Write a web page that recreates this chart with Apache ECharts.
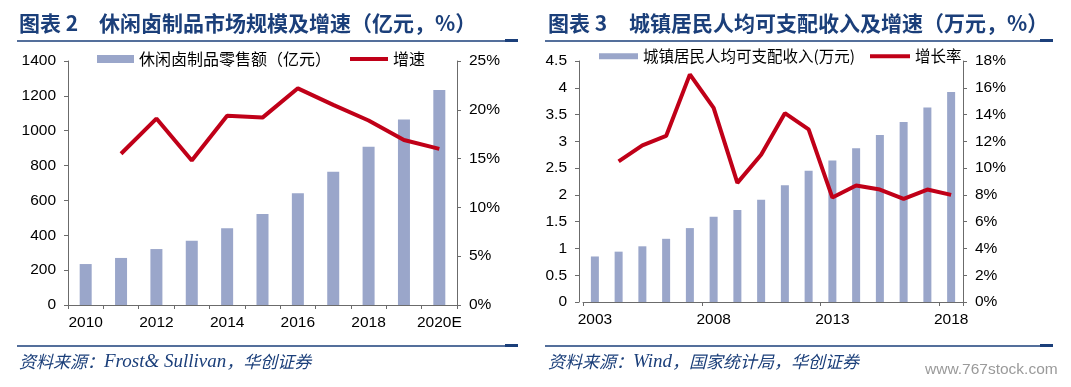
<!DOCTYPE html>
<html>
<head>
<meta charset="utf-8">
<script src="https://cdn.jsdelivr.net/npm/echarts@6/dist/echarts.min.js"></script>
<style>
html,body{margin:0;padding:0;background:#fff;}
#c{width:1071px;height:387px;}
</style>
</head>
<body>
<div id="c"></div>
<script>
// ---------- data ----------
const years1 = ['2010','2011','2012','2013','2014','2015','2016','2017','2018','2019','2020E'];
const retailSales = [235, 270, 321, 369, 440, 522, 641, 765, 908, 1065, 1233];
const retailGrowth = [null, 15.5, 19.1, 14.8, 19.4, 19.2, 22.2, 20.5, 18.9, 16.9, 16.0];

const years2 = ['2003','2004','2005','2006','2007','2008','2009','2010','2011','2012','2013','2014','2015','2016','2017','2018'];
const income = [0.85, 0.94, 1.04, 1.18, 1.38, 1.59, 1.72, 1.91, 2.18, 2.45, 2.64, 2.87, 3.12, 3.36, 3.63, 3.92];
const incomeGrowth = [null, 10.5, 11.7, 12.4, 17.0, 14.5, 8.9, 11.0, 14.1, 12.9, 7.8, 8.7, 8.4, 7.7, 8.4, 8.0];

const title1 = '休闲卤制品市场规模及增速（亿元，%）';
const title2 = '城镇居民人均可支配收入及增速（万元，%）';
const barName1 = '休闲卤制品零售额（亿元）';
const lineName1 = '增速';
const barName2 = '城镇居民人均可支配收入(万元)';
const lineName2 = '增长率';

// ---------- style ----------
const BAR = '#9AA6CA';
const RED = '#C00018';
const NAVY = '#1B3F7A';
const AXIS = '#6b6b6b';
const NUM_FONT = 'Liberation Sans, Arial, sans-serif';
const CJK_FONT = 'Noto Sans CJK SC, sans-serif';
const TICK = 15.5;

const chart = echarts.init(document.getElementById('c'), null, {renderer: 'canvas'});

function yAxisBase(pos, gridIndex, min, max, interval, suffix, offset) {
  return {
    type: 'value', gridIndex, position: pos, min, max, interval, offset: offset || 0,
    axisLine: {show: true, lineStyle: {color: AXIS, width: 1}},
    axisTick: {show: true, length: 4, lineStyle: {color: AXIS}},
    splitLine: {show: false},
    axisLabel: {color: '#000', fontSize: TICK, fontFamily: NUM_FONT, margin: 12,
      formatter: v => String(v) + suffix}
  };
}

function srcRich(parts, x, y) {
  return {
    type: 'text', left: x, top: y,
    style: {
      text: parts.map(p => '{' + p[0] + '|' + p[1] + '}').join(''),
      rich: {
        c: {fontFamily: CJK_FONT, fontStyle: 'italic', fontSize: 17, fill: NAVY},
        l: {fontFamily: 'Liberation Serif, serif', fontStyle: 'italic', fontSize: 19, fill: NAVY}
      }
    }
  };
}

function legend(name, left, top, w, h, fs) {
  return {data: [{name, icon: 'rect'}], left, top, padding: 0, itemWidth: w, itemHeight: h, itemGap: 4,
    textStyle: {fontSize: fs, fontFamily: CJK_FONT, color: '#000'}};
}

const option = {
  animation: false,
  backgroundColor: '#fff',
  grid: [
    {left: 68, right: 1071 - 457, top: 61, bottom: 387 - 305},
    {left: 583, right: 1071 - 963, top: 61, bottom: 85}
  ],
  legend: [
    legend(barName1, 97, 51, 37, 8, 16),
    legend(lineName1, 350, 51, 38, 4, 16),
    legend(barName2, 599, 48.5, 39, 6, 15.5),
    legend(lineName2, 870, 48.5, 40, 4, 15.5)
  ],
  xAxis: [
    {type: 'category', gridIndex: 0, data: years1, boundaryGap: true,
     axisLine: {lineStyle: {color: AXIS}}, axisTick: {show: true, interval: 0, length: 4, lineStyle: {color: AXIS}},
     axisLabel: {interval: 1, color: '#000', fontSize: TICK, fontFamily: NUM_FONT, margin: 10}},
    {type: 'category', gridIndex: 1, data: years2, boundaryGap: true,
     axisLine: {lineStyle: {color: AXIS}}, axisTick: {show: true, interval: 4, length: 4, lineStyle: {color: AXIS}},
     axisLabel: {interval: 4, color: '#000', fontSize: TICK, fontFamily: NUM_FONT, margin: 10}}
  ],
  yAxis: [
    yAxisBase('left', 0, 0, 1400, 200, ''),
    yAxisBase('right', 0, 0, 25, 5, '%'),
    yAxisBase('left', 1, 0, 4.5, 0.5, '', 4),
    yAxisBase('right', 1, 0, 18, 2, '%')
  ],
  series: [
    {name: barName1, type: 'bar', xAxisIndex: 0, yAxisIndex: 0, data: retailSales, barWidth: 12,
     itemStyle: {color: BAR}},
    {name: lineName1, type: 'line', xAxisIndex: 0, yAxisIndex: 1, data: retailGrowth, symbol: 'none',
     lineStyle: {color: RED, width: 4}, itemStyle: {color: RED}},
    {name: barName2, type: 'bar', xAxisIndex: 1, yAxisIndex: 2, data: income, barWidth: 8,
     itemStyle: {color: BAR}},
    {name: lineName2, type: 'line', xAxisIndex: 1, yAxisIndex: 3, data: incomeGrowth, symbol: 'none',
     lineStyle: {color: RED, width: 4}, itemStyle: {color: RED}}
  ],
  graphic: [
    // titles
    {type: 'text', left: 19, top: 13, style: {text: '图表 2', fontSize: 21, fontWeight: 'bold', fontFamily: CJK_FONT, fill: NAVY}},
    {type: 'text', left: 99, top: 13, style: {text: title1, fontSize: 21, fontWeight: 'bold', fontFamily: CJK_FONT, fill: NAVY}},
    {type: 'text', left: 548, top: 13, style: {text: '图表 3', fontSize: 21, fontWeight: 'bold', fontFamily: CJK_FONT, fill: NAVY}},
    {type: 'text', left: 629, top: 13, style: {text: title2, fontSize: 21, fontWeight: 'bold', fontFamily: CJK_FONT, fill: NAVY}},
    // separator lines (top)
    {type: 'line', shape: {x1: 17, y1: 41, x2: 505, y2: 41}, style: {stroke: NAVY, lineWidth: 1.5}},
    {type: 'line', shape: {x1: 505, y1: 40.5, x2: 518, y2: 40.5}, style: {stroke: NAVY, lineWidth: 3}},
    {type: 'line', shape: {x1: 545, y1: 41, x2: 1040, y2: 41}, style: {stroke: NAVY, lineWidth: 1.5}},
    {type: 'line', shape: {x1: 1040, y1: 40.5, x2: 1053, y2: 40.5}, style: {stroke: NAVY, lineWidth: 3}},
    // separator lines (bottom)
    {type: 'line', shape: {x1: 17, y1: 346, x2: 505, y2: 346}, style: {stroke: NAVY, lineWidth: 1.5}},
    {type: 'line', shape: {x1: 505, y1: 345.5, x2: 518, y2: 345.5}, style: {stroke: NAVY, lineWidth: 3}},
    {type: 'line', shape: {x1: 545, y1: 346, x2: 1040, y2: 346}, style: {stroke: NAVY, lineWidth: 1.5}},
    {type: 'line', shape: {x1: 1040, y1: 345.5, x2: 1053, y2: 345.5}, style: {stroke: NAVY, lineWidth: 3}},
    // sources
    srcRich([['c','资料来源：'],['l','Frost& Sullivan'],['c','，华创证券']], 19, 352),
    srcRich([['c','资料来源：'],['l','Wind'],['c','，国家统计局，华创证券']], 548, 352),
    // watermark
    {type: 'text', left: 925, top: 362, style: {text: 'www.767stock.com', fontSize: 15.5, fontFamily: 'Liberation Sans, Arial, sans-serif', fill: '#9a9a9a'}}
  ]
};
chart.setOption(option);
</script>
</body>
</html>
